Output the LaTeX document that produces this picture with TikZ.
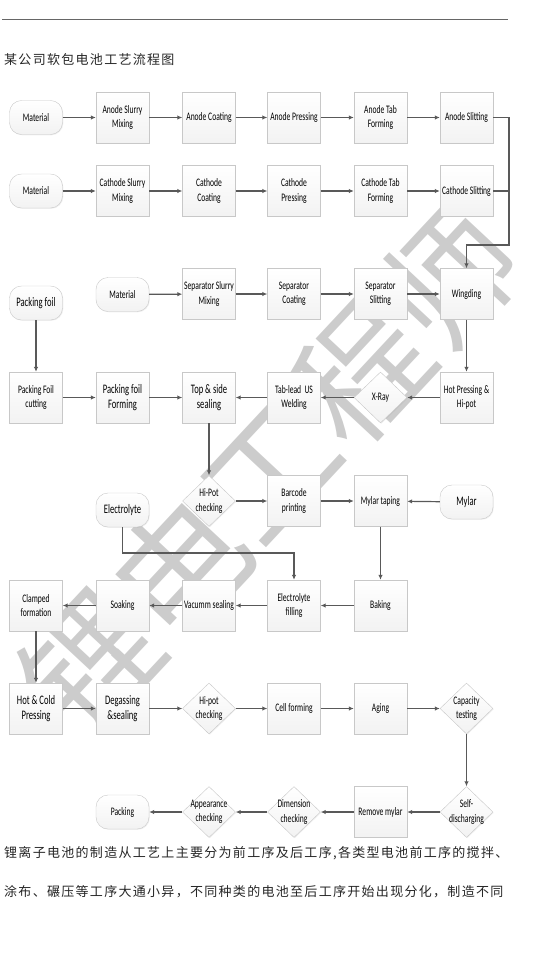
\documentclass[tikz,border=0pt]{standalone}
\usepackage{fontspec}
\newfontfamily\markfont{Noto Sans CJK SC}
\newfontfamily\cjkwide{Noto Sans CJK SC}[LetterSpace=10]
\newfontfamily\boxfont{Carlito}[FakeStretch=0.66]
\usepackage{tikz}
\usetikzlibrary{positioning, calc, arrows.meta, shapes.geometric, shadows}
\definecolor{linecolor}{HTML}{595959}
\definecolor{edgecolor}{HTML}{C8C8C8}
\definecolor{markcolor}{HTML}{CCCCCC}

\tikzset{
  box/.style={rectangle, draw=edgecolor, top color=white, bottom color=black!5,
    minimum width=53pt, minimum height=51pt, inner sep=1pt, align=center,
    font=\boxfont\fontsize{11.5}{14.5}\selectfont,
    drop shadow={shadow xshift=0.8pt, shadow yshift=-0.8pt, opacity=0.12}},
  term/.style={box, rounded corners=12pt, minimum height=34pt},
  big/.style={font=\boxfont\fontsize{13}{15.5}\selectfont},
  check/.style={box, diamond, minimum width=53pt, minimum height=51pt, inner sep=0pt,
    label={[align=center, font=\boxfont\fontsize{11.5}{14.5}\selectfont]center:#1}},
  line/.style={draw=linecolor, line width=1.2pt},
  arr/.style={line, -{Latex[length=5pt,width=4.5pt]}},
  cjktext/.style={anchor=west, inner sep=0pt, text=black!85, font=\cjkwide\fontsize{13}{14}\selectfont}
}

\begin{document}
\begin{tikzpicture}[x=1pt, y=-1pt]
  \useasboundingbox (0,0) rectangle (550,956);

  % 水印
  \node[rotate=47, text=markcolor, font=\markfont\fontsize{132}{132}\selectfont] (mark) at (270,470) {锂电工程师};

  % 标题
  \draw[black!60, line width=0.8pt] (2,19) -- (508,19);
  \node[cjktext] (title) at (4,60) {某公司软包电池工艺流程图};

  % 负极
  \node[term] (mat1) at (36,117.5) {Material};
  \foreach \n/\x/\t in {aslurry/122.5/{Anode Slurry\\Mixing}, acoat/209/{Anode Coating},
      apress/294/{Anode Pressing}, atab/380.5/{Anode Tab\\Forming}, aslit/466.5/{Anode Slitting}} {
    \node[box] (\n) at (\x,117.5) {\t};
  }

  % 正极
  \node[term] (mat2) at (36,191) {Material};
  \foreach \n/\x/\t in {cslurry/122.5/{Cathode Slurry\\Mixing}, ccoat/209/{Cathode\\Coating},
      cpress/294/{Cathode\\Pressing}, ctab/380.5/{Cathode Tab\\Forming}, cslit/466.5/{Cathode Slitting}} {
    \node[box] (\n) at (\x,191) {\t};
  }

  % 隔膜
  \node[term, big] (foil) at (36,303) {Packing foil};
  \node[term] (mat3) at (122.5,294.5) {Material};
  \foreach \n/\x/\t in {sslurry/209/{Separator Slurry\\Mixing}, scoat/294/{Separator\\Coating},
      sslit/380.5/{Separator\\Slitting}, wind/466.5/{Wingding}} {
    \node[box] (\n) at (\x,294) {\t};
  }

  % 封装
  \node[box] (fcut) at (36,397.5) {Packing Foil\\cutting};
  \node[box, big] (fform) at (122.5,397.5) {Packing foil\\Forming};
  \node[box, big] (seal) at (209,397.5) {Top \& side\\sealing};
  \node[box] (weld) at (294,397.5) {Tab-lead~~US\\Welding};
  \node[check={X-Ray}] (xray) at (380.5,397.5) {};
  \node[box] (hotp) at (466.5,397.5) {Hot Pressing \&\\Hi-pot};

  \node[term, big] (elec) at (122.5,510) {Electrolyte};
  \node[check={Hi-Pot\\checking}] (hpot1) at (209,501) {};
  \node[box] (barcode) at (294,501) {Barcode\\printing};
  \node[box] (mtape) at (380.5,501) {Mylar taping};
  \node[term, big] (mylar) at (466.5,502) {Mylar};

  \node[box] (clamp) at (36,605.5) {Clamped\\formation};
  \node[box] (soak) at (122.5,605.5) {Soaking};
  \node[box] (vac) at (209,605.5) {Vacumm sealing};
  \node[box] (efill) at (294,605.5) {Electrolyte\\filling};
  \node[box] (bake) at (380.5,605.5) {Baking};

  % 后工序
  \node[box, big] (hcp) at (36,708.5) {Hot \& Cold\\Pressing};
  \node[box, big] (degas) at (122.5,708.5) {Degassing\\\&sealing};
  \node[check={Hi-pot\\checking}] (hpot2) at (209,708.5) {};
  \node[box] (cform) at (294,708.5) {Cell forming};
  \node[box] (aging) at (380.5,708.5) {Aging};
  \node[check={Capacity\\testing}] (cap) at (466.5,708.5) {};

  \node[term] (pack) at (122.5,812) {Packing};
  \node[check={Appearance\\checking}] (appear) at (209,812) {};
  \node[check={Dimension\\checking}] (dim) at (294,812) {};
  \node[box] (rmylar) at (380.5,812) {Remove mylar};
  \node[check={Self-\\discharging}] (selfd) at (466.5,812) {};

  % 连线
  \foreach \a/\b in {mat1/aslurry, aslurry/acoat, acoat/apress, apress/atab, atab/aslit,
      mat2/cslurry, cslurry/ccoat, ccoat/cpress, cpress/ctab, ctab/cslit,
      mat3/sslurry, sslurry/scoat, scoat/sslit, sslit/wind, wind/hotp, foil/fcut,
      hotp/xray, xray/weld, weld/seal, fcut/fform, fform/seal, seal/hpot1,
      hpot1/barcode, barcode/mtape, mylar/mtape, mtape/bake,
      bake/efill, efill/vac, vac/soak, soak/clamp, clamp/hcp,
      hcp/degas, degas/hpot2, hpot2/cform, cform/aging, aging/cap, cap/selfd,
      selfd/rmylar, rmylar/dim, dim/appear, appear/pack} {
    \draw[arr] (\a) -- (\b);
  }
  \coordinate (trunk) at (509,245);
  \draw[arr] (aslit.east) -| (trunk) -| (wind.north);
  \draw[line] (cslit.east) -- (cslit.east -| trunk);
  \coordinate (ebend) at (122.5,553);
  \draw[arr] (elec.south) -- (ebend) -| (efill.north);

  % 正文
  \node[cjktext] (para1) at (4,853) {锂离子电池的制造从工艺上主要分为前工序及后工序,各类型电池前工序的搅拌、};
  \node[cjktext] (para2) at (4,892) {涂布、碾压等工序大通小异，不同种类的电池至后工序开始出现分化，制造不同};
\end{tikzpicture}
\end{document}
